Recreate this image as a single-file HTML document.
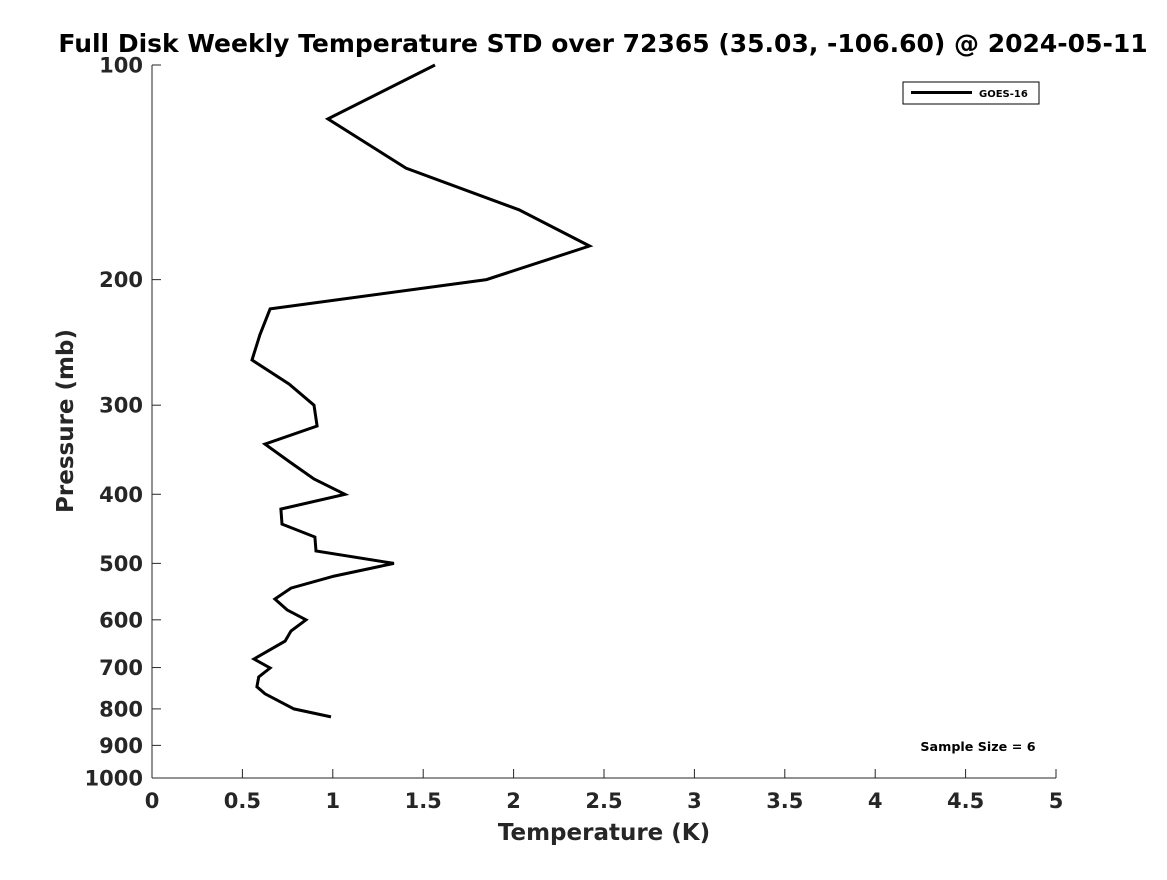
<!DOCTYPE html>
<html><head><meta charset="utf-8"><style>
body{margin:0;background:#fff}
svg text{font-family:"DejaVu Sans","Liberation Sans",sans-serif;font-weight:bold;fill:#262626}
</style></head><body>
<svg width="1167" height="875" viewBox="0 0 1167 875">
<rect width="1167" height="875" fill="#fff"/>
<text x="603" y="52" text-anchor="middle" font-size="25" style="fill:#000">Full Disk Weekly Temperature STD over 72365 (35.03, -106.60) @ 2024-05-11</text>
<g id="axes"></g>
<path id="series" fill="none" stroke="#000" stroke-width="3" stroke-linejoin="miter"/>
<g>
<rect x="903" y="82" width="136" height="22" fill="#fff" stroke="#000" stroke-width="1"/>
<line x1="911" y1="92.5" x2="972" y2="92.5" stroke="#000" stroke-width="3"/>
<text x="979" y="97" font-size="10" style="fill:#000">GOES-16</text>
</g>
<text x="978" y="751" text-anchor="middle" font-size="12.7" style="fill:#000">Sample Size = 6</text>
<text x="604" y="840" text-anchor="middle" font-size="23">Temperature (K)</text>
<text transform="translate(73,421) rotate(-90)" text-anchor="middle" font-size="23">Pressure (mb)</text>
</svg>
<script>
const temps=[1.565,0.973,1.405,2.03,2.42,1.85,0.653,0.597,0.553,0.758,0.896,0.913,0.625,0.763,0.896,1.067,0.713,0.719,0.901,0.907,1.338,1.007,0.769,0.68,0.747,0.852,0.769,0.736,0.564,0.653,0.59,0.58,0.625,0.785,0.99];
const pressures=[100,119,139.5,159.6,179.4,200,219.8,239,259.3,280.2,300,320.9,340.2,360.5,380.7,400,419.6,440.5,459.2,480.4,500,521,541.5,561,581,600,622,642.6,681,701,721.7,745,762,800,821];
const xTicks=[0,0.5,1,1.5,2,2.5,3,3.5,4,4.5,5];
const xTickLabels=["0","0.5","1","1.5","2","2.5","3","3.5","4","4.5","5"];
const yTicks=[100,200,300,400,500,600,700,800,900,1000];
const yTickLabels=["100","200","300","400","500","600","700","800","900","1000"];
const X0=152,X1=1056,Y0=65,Y1=778;
function xs(v){return X0+(v-0)/(5-0)*(X1-X0);}
function ys(p){return Y0+Math.log10(p/100)/Math.log10(10)*(Y1-Y0);}
const NS="http://www.w3.org/2000/svg";
const g=document.getElementById('axes');
function mk(t,a){const e=document.createElementNS(NS,t);for(const k in a)e.setAttribute(k,a[k]);return e;}
const xa=mk('line',{x1:X0,y1:Y1,x2:X1,y2:Y1,stroke:'#262626','stroke-width':1});


g.appendChild(xa);
const ya=mk('line',{x1:X0,y1:Y0,x2:X0,y2:Y1,stroke:'#262626','stroke-width':1});


g.appendChild(ya);
xTicks.forEach((v,i)=>{
 const x=xs(v);
 g.appendChild(mk('line',{x1:x,y1:Y1,x2:x,y2:Y1-9,stroke:'#262626'}));
 const t=mk('text',{x:x,y:Y1+30,'text-anchor':'middle','font-size':21});
 t.textContent=xTickLabels[i];
 
 
 g.appendChild(t);
});
yTicks.forEach((p,i)=>{
 const y=ys(p);
 g.appendChild(mk('line',{x1:X0,y1:y,x2:X0+9,y2:y,stroke:'#262626'}));
 const t=mk('text',{x:X0-9,y:y+7.5,'text-anchor':'end','font-size':21});
 t.textContent=yTickLabels[i];
 
 
 g.appendChild(t);
});
document.getElementById('series').setAttribute('d',temps.map((v,i)=>(i?'L':'M')+xs(v).toFixed(1)+','+ys(pressures[i]).toFixed(1)).join(''));
</script>
</body></html>
